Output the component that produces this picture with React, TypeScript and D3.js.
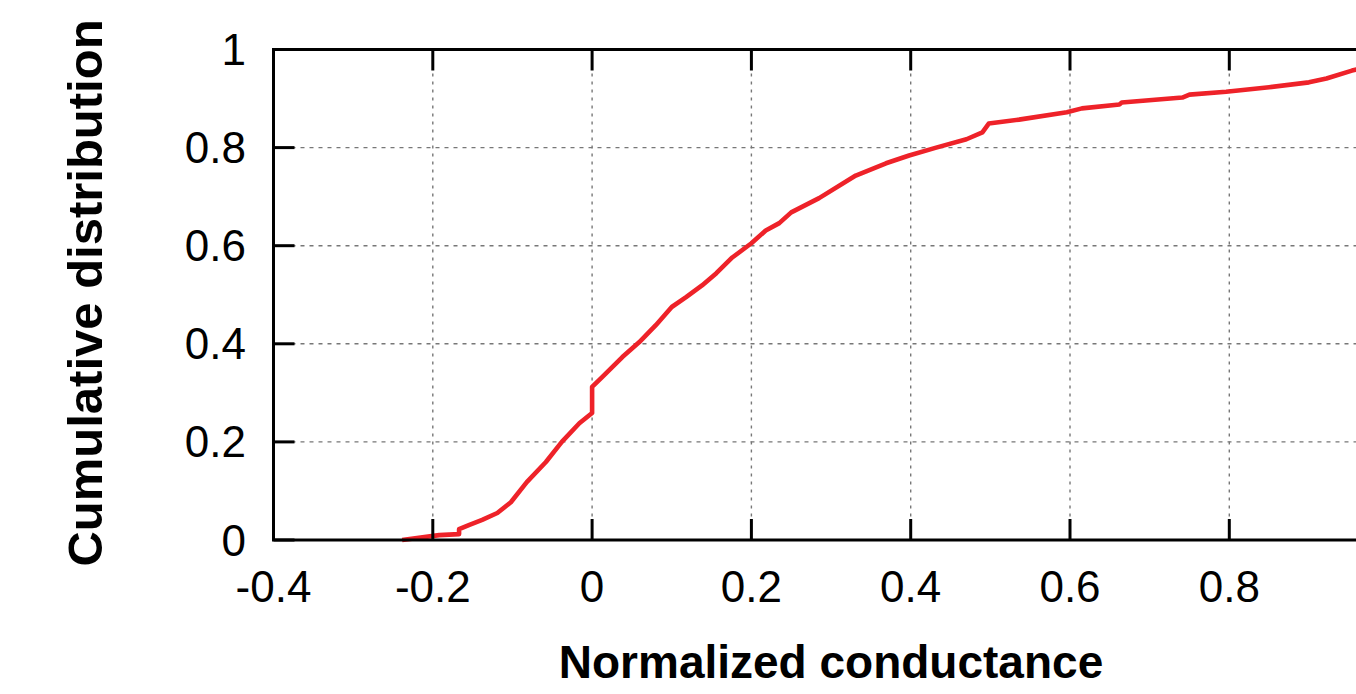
import React from "react";
import * as d3 from "d3";

const xTicks = [-0.4, -0.2, 0, 0.2, 0.4, 0.6, 0.8, 1];
const yTicks = [0, 0.2, 0.4, 0.6, 0.8, 1];
// the label of the last x tick (1) lies beyond the picture's right edge
const xTickLabels = ["-0.4", "-0.2", "0", "0.2", "0.4", "0.6", "0.8"];
const yTickLabels = ["0", "0.2", "0.4", "0.6", "0.8", "1"];

const cdfX = [
  -0.2385, -0.192, -0.167, -0.167, -0.154, -0.138, -0.119, -0.102, -0.082, -0.058,
  -0.038, -0.016, 0.0, 0.0, 0.0126, 0.038, 0.059, 0.08, 0.1, 0.118,
  0.138, 0.156, 0.176, 0.2, 0.218, 0.235, 0.25, 0.285, 0.331, 0.369,
  0.398, 0.432, 0.47, 0.49, 0.498, 0.536, 0.596, 0.615, 0.662, 0.665,
  0.741, 0.75, 0.796, 0.85, 0.9, 0.922, 0.954, 0.975,
];
const cdfY = [
  0.0, 0.01, 0.012, 0.022, 0.031, 0.041, 0.055, 0.077, 0.118, 0.159,
  0.2, 0.238, 0.259, 0.312, 0.332, 0.373, 0.403, 0.438, 0.475, 0.495,
  0.519, 0.544, 0.576, 0.605, 0.631, 0.646, 0.668, 0.697, 0.743, 0.768,
  0.784, 0.8, 0.817, 0.831, 0.849, 0.857, 0.872, 0.88, 0.888, 0.892,
  0.902, 0.908, 0.914, 0.923, 0.933, 0.941, 0.957, 0.965,
];

const W = 1356;
const H = 694;
const left = 273.5;
const right = 1388.6;
const top = 49.5;
const bottom = 540;

export default function App() {
  const x = d3.scaleLinear().domain([-0.4, 1]).range([left, right]);
  const y = d3.scaleLinear().domain([0, 1]).range([bottom, top]);
  const pts: [number, number][] = cdfX.map((v, i) => [v, cdfY[i]]);
  const line = d3
    .line<[number, number]>()
    .x((d) => x(d[0]))
    .y((d) => y(d[1]));
  const font = "'Liberation Sans', Arial, Helvetica, sans-serif";
  const tickLen = 21;
  return (
    <svg
      width={W}
      height={H}
      style={{ position: "absolute", left: 0, top: 0, background: "#fff" }}
    >
      <rect x={0} y={0} width={W} height={H} fill="#fff" />
      {/* grid */}
      {xTicks.map((t, i) =>
        i > 0 ? (
          <line
            key={"gx" + i}
            x1={x(t)}
            x2={x(t)}
            y1={top}
            y2={bottom}
            stroke="#777"
            strokeWidth={1.4}
            strokeDasharray="3,5"
          />
        ) : null
      )}
      {yTicks.map((t, i) =>
        i > 0 && i < yTicks.length - 1 ? (
          <line
            key={"gy" + i}
            x1={left}
            x2={right}
            y1={y(t)}
            y2={y(t)}
            stroke="#777"
            strokeWidth={1.4}
            strokeDasharray="4,5"
          />
        ) : null
      )}
      {/* curve */}
      <path
        d={line(pts) || ""}
        fill="none"
        stroke="#ee2229"
        strokeWidth={4.6}
        strokeLinejoin="round"
      />
      {/* frame */}
      <rect
        x={left}
        y={top}
        width={right - left}
        height={bottom - top}
        fill="none"
        stroke="#000"
        strokeWidth={3}
      />
      {/* ticks */}
      {xTicks.map((t, i) => (
        <g key={"tx" + i}>
          <line x1={x(t)} x2={x(t)} y1={bottom} y2={bottom - tickLen} stroke="#000" strokeWidth={3} />
          <line x1={x(t)} x2={x(t)} y1={top} y2={top + tickLen} stroke="#000" strokeWidth={3} />
        </g>
      ))}
      {yTicks.map((t, i) => (
        <g key={"ty" + i}>
          <line x1={left} x2={left + tickLen} y1={y(t)} y2={y(t)} stroke="#000" strokeWidth={3} />
          <line x1={right} x2={right - tickLen} y1={y(t)} y2={y(t)} stroke="#000" strokeWidth={3} />
        </g>
      ))}
      {/* tick labels */}
      {xTickLabels.map((lab, i) => (
        <text
          key={"lx" + i}
          x={x(xTicks[i])}
          y={602}
          textAnchor="middle"
          fontFamily={font}
          fontSize={44}
          fill="#000"
        >
          {lab}
        </text>
      ))}
      {yTicks.map((t, i) => (
        <text
          key={"ly" + i}
          x={246}
          y={y(t) + 15.5}
          textAnchor="end"
          fontFamily={font}
          fontSize={44}
          fill="#000"
        >
          {yTickLabels[i]}
        </text>
      ))}
      {/* axis titles */}
      <text
        x={831}
        y={678}
        textAnchor="middle"
        fontFamily={font}
        fontSize={46}
        fontWeight="bold"
        fill="#000"
      >
        Normalized conductance
      </text>
      <text
        transform={`translate(102, 293) rotate(-90)`}
        textAnchor="middle"
        fontFamily={font}
        fontSize={49}
        fontWeight="bold"
        fill="#000"
      >
        Cumulative distribution
      </text>
    </svg>
  );
}
